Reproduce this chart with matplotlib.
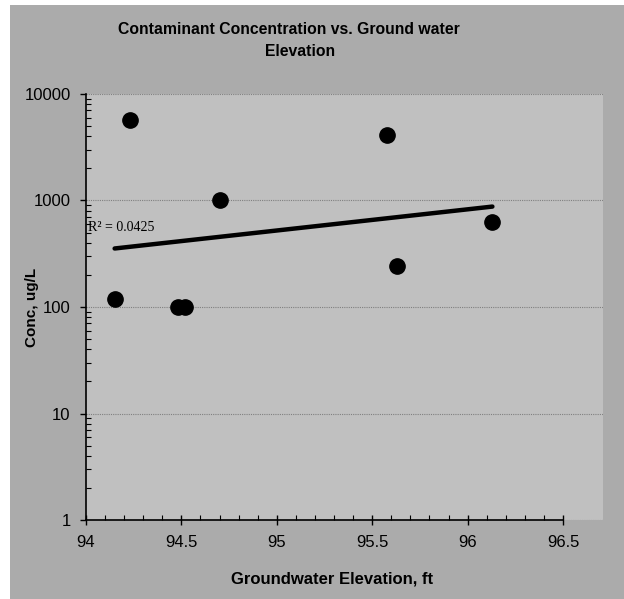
import numpy as np
import matplotlib
matplotlib.use('Agg')
import matplotlib.pyplot as plt
from matplotlib.patches import Rectangle
from matplotlib.ticker import FixedLocator, NullFormatter, LogLocator

# dados
elevacao = [94.15, 94.23, 94.48, 94.52, 94.70, 95.58, 95.63, 96.13]
concentracao = [120, 5700, 100, 100, 1000, 4080, 243, 631]
x_ticks = [94, 94.5, 95, 95.5, 96, 96.5]
x_tick_labels = ['94', '94.5', '95', '95.5', '96', '96.5']
y_ticks = [1, 10, 100, 1000, 10000]
y_tick_labels = ['1', '10', '100', '1000', '10000']
r2_label = 'R² = 0.0425'

fundo = '#ababab'
area = '#c0c0c0'

plt.rcParams['font.family'] = 'Liberation Sans'

fig = plt.figure(figsize=(6.24, 5.99), dpi=100, facecolor='white')
fig.patches.append(Rectangle((10 / 624, 0), 1 - 10 / 624, 594 / 599, transform=fig.transFigure,
                             facecolor=fundo, edgecolor='none', zorder=-1))

ax = fig.add_axes([86 / 624, 1 - 520 / 599, (603 - 86) / 624, (520 - 94) / 599])
ax.set_facecolor(area)
ax.set_yscale('log')
ax.set_xlim(94, 96.5 + 40 / 190.8)
ax.set_ylim(1, 10000)

# pontos
ax.plot(elevacao, concentracao, 'o', color='black', ms=11, zorder=3)

# linha de tendencia exponencial
coef = np.polyfit(elevacao, np.log10(concentracao), 1)
xt = np.array([min(elevacao), max(elevacao)])
ax.plot(xt, 10 ** np.polyval(coef, xt), color='black', lw=3.2, solid_capstyle='round', zorder=2)
ax.text(94.01, 560, r2_label, family='Liberation Serif', fontsize=10, ha='left', va='center')

# eixos
for s in ['top', 'right']:
    ax.spines[s].set_visible(False)
ax.spines['bottom'].set_bounds(94, 96.5)
ax.spines['left'].set_linewidth(1.2)
ax.spines['bottom'].set_linewidth(1.2)

ax.xaxis.set_major_locator(FixedLocator(x_ticks))
ax.set_xticklabels(x_tick_labels)
ax.xaxis.set_minor_locator(FixedLocator(np.arange(94.1, 96.5, 0.1)))
ax.yaxis.set_major_locator(FixedLocator(y_ticks))
ax.set_yticklabels(y_tick_labels)
ax.yaxis.set_minor_locator(LogLocator(base=10, subs=np.arange(2, 10)))
ax.yaxis.set_minor_formatter(NullFormatter())

ax.tick_params(axis='x', which='major', direction='inout', length=7, width=1, pad=7, labelsize=12)
ax.tick_params(axis='x', which='minor', direction='in', length=3.5, width=0.8)
ax.tick_params(axis='y', which='major', direction='out', length=4, width=1, pad=7, labelsize=12)
ax.tick_params(axis='y', which='minor', direction='in', length=3.5, width=0.8)

ax.grid(True, axis='y', which='major', color='#808080', linestyle=(0, (1, 1)), linewidth=0.8)
ax.set_axisbelow(True)

# titulo em duas linhas
fig.text(289 / 624, 1 - 30 / 599, 'Contaminant Concentration vs. Ground water',
         ha='center', va='center', fontsize=11.3, fontweight='bold')
fig.text(300 / 624, 1 - 52 / 599, 'Elevation',
         ha='center', va='center', fontsize=11.3, fontweight='bold')
fig.text(332 / 624, 1 - 579 / 599, 'Groundwater Elevation, ft', ha='center', va='center',
         fontsize=12, fontweight='bold')
fig.text(32 / 624, 1 - 307 / 599, 'Conc, ug/L', ha='center', va='center', rotation=90,
         fontsize=11, fontweight='bold')

plt.savefig('out.png', dpi=100, facecolor='white')
